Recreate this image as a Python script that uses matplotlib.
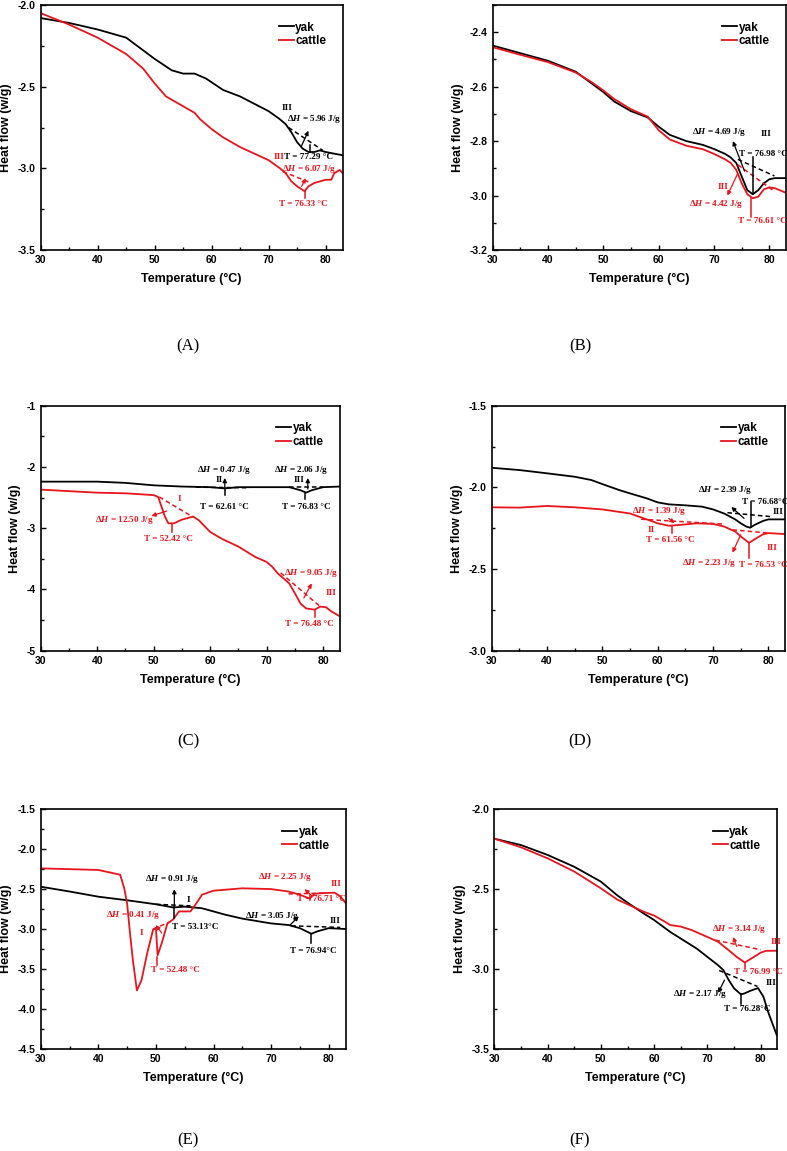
import matplotlib
matplotlib.use("Agg")
import matplotlib.pyplot as plt
from matplotlib.ticker import MultipleLocator, FormatStrFormatter

plt.rcParams['font.family'] = ['Liberation Sans', 'DejaVu Sans']
plt.rcParams['mathtext.fontset'] = 'custom'
plt.rcParams['mathtext.rm'] = 'Liberation Serif:bold'
plt.rcParams['mathtext.it'] = 'Liberation Serif:italic:bold'
plt.rcParams['mathtext.bf'] = 'Liberation Serif:bold'

RED = '#e8141c'
BLK = 'black'

# ---- data (temperature °C, heat flow w/g) ----
a_yak_x = [30, 35, 40, 45, 50, 53, 55, 57, 59, 62, 65, 70, 72, 73, 74, 75, 76, 77, 78, 79, 80, 83]
a_yak_y = [-2.08, -2.11, -2.15, -2.20, -2.33, -2.40, -2.42, -2.42, -2.45, -2.52, -2.56, -2.65, -2.70,
           -2.73, -2.78, -2.84, -2.88, -2.90, -2.90, -2.89, -2.90, -2.92]
a_cat_x = [30, 35, 40, 45, 48, 50, 52, 55, 57, 58, 60, 62, 65, 70, 72, 73, 74, 75, 76.3, 77, 78, 80,
           81, 81.5, 82.5, 83]
a_cat_y = [-2.05, -2.12, -2.20, -2.30, -2.39, -2.48, -2.56, -2.62, -2.66, -2.70, -2.76, -2.81, -2.87,
           -2.95, -3.00, -3.03, -3.08, -3.11, -3.14, -3.11, -3.09, -3.07, -3.07, -3.03, -3.01, -3.03]

b_yak_x = [30, 35, 40, 45, 48, 50, 52, 55, 58, 60, 62, 65, 68, 70, 72, 73, 74, 75, 76, 77, 78, 79, 80,
           81, 83]
b_yak_y = [-2.449, -2.477, -2.505, -2.545, -2.59, -2.62, -2.655, -2.69, -2.713, -2.747, -2.777, -2.80,
           -2.814, -2.829, -2.847, -2.86, -2.88, -2.93, -2.98, -2.995, -2.98, -2.955, -2.94, -2.936, -2.936]
b_cat_x = [30, 35, 40, 45, 48, 50, 52, 55, 58, 60, 62, 65, 68, 70, 72, 73, 74, 75, 76, 77, 78, 79, 80,
           81, 83]
b_cat_y = [-2.455, -2.483, -2.51, -2.548, -2.585, -2.614, -2.646, -2.683, -2.71, -2.76, -2.794, -2.817,
           -2.83, -2.847, -2.867, -2.88, -2.905, -2.955, -2.995, -3.01, -3.004, -2.977, -2.97, -2.973, -2.99]

c_yak_x = [30, 40, 45, 50, 55, 60, 62.6, 65, 70, 74, 76, 77, 78, 80, 83]
c_yak_y = [-2.24, -2.24, -2.26, -2.30, -2.32, -2.33, -2.35, -2.33, -2.33, -2.33, -2.38, -2.42, -2.38,
           -2.33, -2.32]
c_cat_x = [30, 40, 45, 50, 50.8, 52, 52.6, 53.6, 55, 57, 58, 60, 62, 65, 68, 70, 71, 72, 73, 74, 75,
           76, 77, 78.5, 79.5, 80.5, 81.5, 83]
c_cat_y = [-2.37, -2.42, -2.43, -2.46, -2.49, -2.81, -2.92, -2.92, -2.86, -2.81, -2.87, -3.06, -3.17,
           -3.30, -3.47, -3.55, -3.63, -3.74, -3.82, -3.90, -4.06, -4.23, -4.31, -4.33, -4.28, -4.29,
           -4.36, -4.44]

d_yak_x = [30, 35, 40, 45, 48, 50, 53, 55, 58, 60, 62, 65, 68, 70, 72, 74, 75, 76, 76.7, 77.5, 79, 80, 83]
d_yak_y = [-1.88, -1.894, -1.914, -1.935, -1.955, -1.98, -2.016, -2.037, -2.067, -2.092, -2.104, -2.11,
           -2.118, -2.135, -2.16, -2.196, -2.22, -2.24, -2.247, -2.23, -2.206, -2.196, -2.196]
d_cat_x = [30, 35, 40, 45, 50, 55, 58, 60, 62, 64, 67, 70, 72, 74, 75, 76.5, 77.5, 79, 80, 83]
d_cat_y = [-2.122, -2.124, -2.114, -2.122, -2.135, -2.16, -2.196, -2.22, -2.235, -2.23, -2.22, -2.224,
           -2.24, -2.27, -2.30, -2.34, -2.318, -2.288, -2.28, -2.286]

e_yak_x = [30, 35, 40, 45, 50, 53, 55, 58, 60, 62, 65, 70, 73, 75, 77, 78, 80, 83]
e_yak_y = [-2.47, -2.53, -2.595, -2.64, -2.69, -2.73, -2.72, -2.74, -2.78, -2.82, -2.87, -2.93, -2.95,
           -2.99, -3.06, -3.03, -2.99, -3.0]
e_cat_x = [30, 40, 43.8, 44.5, 45, 45.5, 46, 46.7, 47.5, 48.5, 49.5, 50, 50.3, 51, 52, 53, 54, 56, 57,
           58, 60, 65, 70, 73, 75, 76.7, 77.5, 79, 81, 82, 83]
e_cat_y = [-2.24, -2.26, -2.32, -2.49, -2.68, -3.05, -3.39, -3.77, -3.64, -3.30, -3.01, -2.99, -3.33,
           -3.18, -2.93, -2.88, -2.78, -2.78, -2.68, -2.57, -2.52, -2.49, -2.50, -2.53, -2.57, -2.62,
           -2.56, -2.55, -2.545, -2.59, -2.68]

f_yak_x = [30, 35, 40, 45, 50, 53, 55, 58, 60, 63, 65, 68, 70, 72, 73, 74, 75, 76.3, 77, 78, 79.5,
           80.5, 81.5, 83]
f_yak_y = [-2.184, -2.224, -2.286, -2.36, -2.453, -2.537, -2.585, -2.652, -2.694, -2.768, -2.81, -2.873,
           -2.925, -2.977, -3.008, -3.07, -3.122, -3.16, -3.153, -3.138, -3.12, -3.174, -3.28, -3.414]
f_cat_x = [30, 35, 40, 45, 50, 53, 55, 58, 60, 62, 63, 65, 67, 70, 72, 74, 75.5, 77, 78, 80, 81, 83]
f_cat_y = [-2.184, -2.238, -2.307, -2.39, -2.495, -2.564, -2.595, -2.641, -2.666, -2.704, -2.725, -2.735,
           -2.756, -2.80, -2.83, -2.883, -2.925, -2.96, -2.94, -2.898, -2.887, -2.886]

# annotations: text (x, y, s, color, ha), dashed baselines, arrows, peak markers
a_text = [(72.3, -2.63, 'III', BLK, 'left'), (73.2, -2.70, r'$\Delta H$ = 5.96 J/g', BLK, 'left'),
          (77.0, -2.93, 'T = 77.29 °C', BLK, 'center'), (70.8, -2.93, 'III', RED, 'left'),
          (72.3, -3.006, r'$\Delta H$ = 6.07 J/g', RED, 'left'), (76.0, -3.22, 'T = 76.33 °C', RED, 'center')]
a_dash = [(73.5, -2.75, 79.5, -2.89, BLK), (72.5, -3.02, 77.5, -3.09, RED)]
a_arrow = [(75.8, -2.86, 77.0, -2.77, BLK), (75.8, -3.11, 76.5, -3.06, RED)]
a_peak = [(77.3, -2.86, -2.90, BLK), (76.33, -3.14, -3.18, RED)]

b_text = [(66.1, -2.765, r'$\Delta H$ = 4.69 J/g', BLK, 'left'), (78.5, -2.775, 'III', BLK, 'left'),
          (74.5, -2.847, 'T = 76.98 °C', BLK, 'left'), (70.6, -2.967, 'III', RED, 'left'),
          (65.5, -3.03, r'$\Delta H$ = 4.42 J/g', RED, 'left'), (74.3, -3.093, 'T = 76.61 °C', RED, 'left')]
b_dash = [(74.3, -2.867, 80.9, -2.928, BLK), (74.3, -2.887, 80.6, -2.98, RED)]
b_arrow = [(75.5, -2.91, 73.4, -2.80, BLK), (74.3, -2.918, 72.4, -3.0, RED)]
b_peak = [(77.0, -2.86, -2.995, BLK), (76.6, -3.01, -3.077, RED)]

c_text = [(57.7, -2.05, r'$\Delta H$ = 0.47 J/g', BLK, 'left'), (60.9, -2.21, 'II', BLK, 'left'),
          (62.5, -2.65, 'T = 62.61 °C', BLK, 'center'), (71.3, -2.05, r'$\Delta H$ = 2.06 J/g', BLK, 'left'),
          (74.8, -2.21, 'III', BLK, 'left'), (77.0, -2.65, 'T = 76.83 °C', BLK, 'center'),
          (54.3, -2.53, 'I', RED, 'left'), (39.6, -2.86, r'$\Delta H$ = 12.50 J/g', RED, 'left'),
          (52.6, -3.17, 'T = 52.42 °C', RED, 'center'), (73.0, -3.73, r'$\Delta H$ = 9.05 J/g', RED, 'left'),
          (80.4, -4.06, 'III', RED, 'left'), (77.6, -4.57, 'T = 76.48 °C', RED, 'center')]
c_dash = [(57.5, -2.33, 67.0, -2.34, BLK), (74.0, -2.33, 80.0, -2.33, BLK),
          (51.0, -2.49, 57.0, -2.82, RED), (72.5, -3.73, 79.5, -4.28, RED)]
c_arrow = [(62.6, -2.33, 62.6, -2.18, BLK), (77.3, -2.36, 77.3, -2.18, BLK),
           (52.3, -2.72, 49.6, -2.80, RED), (76.6, -4.14, 78.0, -3.90, RED)]
c_peak = [(62.6, -2.35, -2.46, BLK), (76.8, -2.42, -2.52, BLK),
          (53.3, -2.93, -3.06, RED), (78.5, -4.33, -4.45, RED)]

d_text = [(67.2, -2.016, r'$\Delta H$ = 2.39 J/g', BLK, 'left'), (75.3, -2.088, 'T = 76.68°C', BLK, 'left'),
          (80.8, -2.15, 'III', BLK, 'left'), (55.4, -2.145, r'$\Delta H$ = 1.39 J/g', RED, 'left'),
          (58.1, -2.26, 'II', RED, 'left'), (62.3, -2.32, 'T = 61.56 °C', RED, 'center'),
          (79.6, -2.37, 'III', RED, 'left'), (64.3, -2.465, r'$\Delta H$ = 2.23 J/g', RED, 'left'),
          (74.6, -2.475, 'T = 76.53 °C', RED, 'left')]
d_dash = [(72.6, -2.155, 80.8, -2.18, BLK), (57.0, -2.195, 72.0, -2.225, RED),
          (73.5, -2.26, 80.0, -2.28, RED)]
d_arrow = [(75.6, -2.19, 73.3, -2.12, BLK), (62.0, -2.19, 63.0, -2.22, RED),
           (75.0, -2.29, 73.5, -2.40, RED)]
d_peak = [(76.8, -2.09, -2.245, BLK), (62.6, -2.235, -2.28, RED), (76.5, -2.34, -2.43, RED)]

e_text = [(48.1, -2.37, r'$\Delta H$ = 0.91 J/g', BLK, 'left'), (55.4, -2.64, 'I', BLK, 'left'),
          (52.8, -2.97, 'T = 53.13°C', BLK, 'left'), (41.4, -2.82, r'$\Delta H$ = 0.41 J/g', RED, 'left'),
          (47.1, -3.05, 'I', RED, 'left'), (53.3, -3.52, 'T = 52.48 °C', RED, 'center'),
          (67.8, -2.35, r'$\Delta H$ = 2.25 J/g', RED, 'left'), (80.3, -2.44, 'III', RED, 'left'),
          (74.5, -2.62, 'T = 76.71 °C', RED, 'left'), (65.5, -2.84, r'$\Delta H$ = 3.05 J/g', BLK, 'left'),
          (80.2, -2.90, 'III', BLK, 'left'), (73.3, -3.27, 'T = 76.94°C', BLK, 'left')]
e_dash = [(50.0, -2.69, 56.0, -2.71, BLK), (73.5, -2.96, 82.0, -2.98, BLK),
          (49.5, -3.0, 52.5, -2.91, RED), (73.0, -2.56, 79.5, -2.55, RED)]
e_arrow = [(53.2, -2.72, 53.2, -2.50, BLK), (73.3, -2.95, 74.8, -2.84, BLK),
           (51.0, -3.05, 50.0, -2.95, RED), (77.0, -2.58, 75.8, -2.50, RED)]
e_peak = [(53.1, -2.72, -2.86, BLK), (77.0, -3.06, -3.18, BLK),
          (50.2, -3.35, -3.45, RED), (76.7, -2.57, -2.64, RED)]

f_text = [(70.9, -2.75, r'$\Delta H$ = 3.14 J/g', RED, 'left'), (81.9, -2.83, 'III', RED, 'left'),
          (75.0, -3.02, 'T = 76.99 °C', RED, 'left'), (80.9, -3.09, 'III', BLK, 'left'),
          (63.5, -3.16, r'$\Delta H$ = 2.17 J/g', BLK, 'left'), (73.1, -3.25, 'T = 76.28°C', BLK, 'left')]
f_dash = [(71.5, -2.82, 80.0, -2.88, RED), (72.2, -3.01, 79.4, -3.11, BLK)]
f_arrow = [(75.5, -2.86, 74.8, -2.80, RED), (73.2, -3.07, 72.0, -3.15, BLK)]
f_peak = [(77.0, -2.96, -3.0, RED), (76.3, -3.16, -3.22, BLK)]

# ---- layout (pixels) ----
W, H = 787, 1151
panels = [
    # label, rect(px: left, top, right, bottom), ylim, ymajor, fmt, data..., annotations, label pos
    ('(A)', (40.7, 5, 342.7, 250), (-3.5, -2.0), 0.5, '%.1f', a_yak_x, a_yak_y, a_cat_x, a_cat_y,
     a_text, a_dash, a_arrow, a_peak, (188, 346)),
    ('(B)', (492.7, 5, 786, 250), (-3.2, -2.3), 0.2, '%.1f', b_yak_x, b_yak_y, b_cat_x, b_cat_y,
     b_text, b_dash, b_arrow, b_peak, (580, 346)),
    ('(C)', (40.7, 405.7, 340, 650.7), (-5, -1), 1.0, '%d', c_yak_x, c_yak_y, c_cat_x, c_cat_y,
     c_text, c_dash, c_arrow, c_peak, (188, 741)),
    ('(D)', (491.7, 405.7, 785, 650.7), (-3.0, -1.5), 0.5, '%.1f', d_yak_x, d_yak_y, d_cat_x, d_cat_y,
     d_text, d_dash, d_arrow, d_peak, (580, 741)),
    ('(E)', (40.7, 809.3, 346, 1048.7), (-4.5, -1.5), 0.5, '%.1f', e_yak_x, e_yak_y, e_cat_x, e_cat_y,
     e_text, e_dash, e_arrow, e_peak, (188, 1140)),
    ('(F)', (494.3, 809.3, 776.7, 1048.7), (-3.5, -2.0), 0.5, '%.1f', f_yak_x, f_yak_y, f_cat_x, f_cat_y,
     f_text, f_dash, f_arrow, f_peak, (580, 1140)),
]

fig = plt.figure(figsize=(W / 100, H / 100), dpi=100)

for (lab, (l, t, r, b), ylim, ymaj, fmt, yx, yy, cx, cy, texts, dashes, arrows, peaks, labpos) in panels:
    ax = fig.add_axes([l / W, 1 - b / H, (r - l) / W, (b - t) / H])
    ax.plot(yx, yy, color=BLK, lw=1.3, label='yak')
    ax.plot(cx, cy, color=RED, lw=1.3, label='cattle')
    ax.set_xlim(30, 83)
    ax.set_ylim(*ylim)
    ax.xaxis.set_major_locator(MultipleLocator(10))
    ax.xaxis.set_minor_locator(MultipleLocator(5))
    ax.yaxis.set_major_locator(MultipleLocator(ymaj))
    ax.yaxis.set_minor_locator(MultipleLocator(ymaj / 2))
    ax.yaxis.set_major_formatter(FormatStrFormatter(fmt))
    ax.tick_params(which='both', direction='in', top=False, right=False, width=1.0)
    ax.tick_params(which='major', length=3.5, labelsize=7.5)
    ax.tick_params(which='minor', length=2)
    for lbl in ax.get_xticklabels() + ax.get_yticklabels():
        lbl.set_fontweight('bold')
    for sp in ax.spines.values():
        sp.set_linewidth(1.2)
    ax.set_xlabel('Temperature (°C)', fontsize=9, fontweight='bold', labelpad=6)
    ax.set_ylabel('Heat flow (w/g)', fontsize=9, fontweight='bold', labelpad=4)
    ax.legend(loc='upper right', frameon=False, handlelength=1.3, handletextpad=0.1,
              borderaxespad=1.0, labelspacing=0.15, prop={'weight': 'bold', 'size': 8.5})

    for x0, y0, x1, y1, c in dashes:
        ax.plot([x0, x1], [y0, y1], ls=(0, (3, 2)), color=c, lw=1.1)
    for x0, y0, x1, y1, c in arrows:
        ax.annotate('', xy=(x1, y1), xytext=(x0, y0),
                    arrowprops=dict(arrowstyle='-|>', color=c, lw=0.9, mutation_scale=6,
                                    shrinkA=0, shrinkB=0))
    for x, y0, y1, c in peaks:
        ax.plot([x, x], [y0, y1], color=c, lw=1.1)
    for x, y, s, c, ha in texts:
        ax.text(x, y, s, color=c, ha=ha, va='center', fontsize=6.6,
                family='Liberation Serif', fontweight='bold')

    fig.text(labpos[0] / W, 1 - labpos[1] / H, lab, ha='center', va='center',
             fontsize=12, family='Liberation Serif')

fig.savefig('out.png', dpi=100)
